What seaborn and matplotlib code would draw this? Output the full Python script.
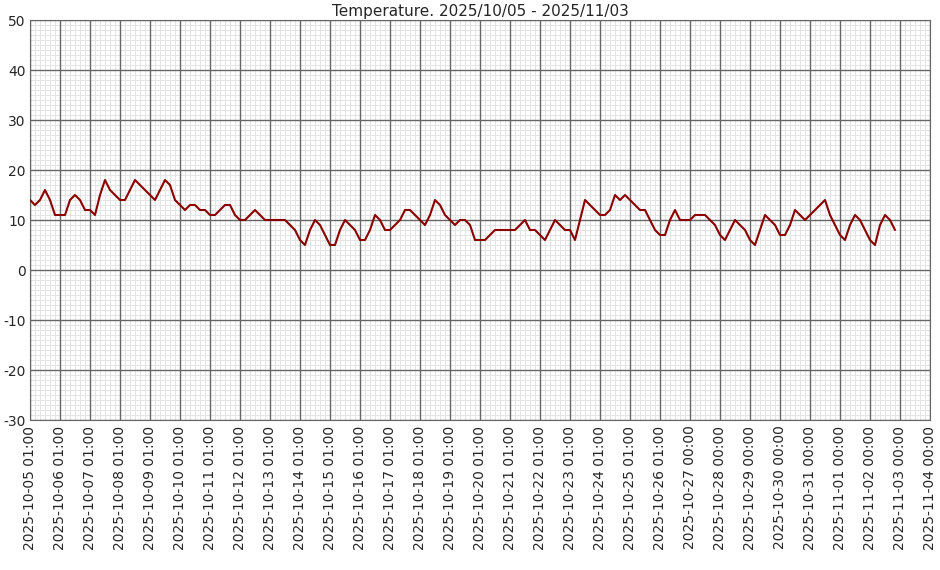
import matplotlib
matplotlib.use("Agg")
import matplotlib.pyplot as plt
import seaborn as sns
from matplotlib.ticker import MultipleLocator

# temperatura co 4 godziny od 2025-10-05 01:00
temp = [14, 13, 14, 16, 14, 11, 11, 11, 14, 15, 14, 12, 12, 11, 15, 18, 16, 15, 14, 14,
        16, 18, 17, 16, 15, 14, 16, 18, 17, 14, 13, 12, 13, 13, 12, 12, 11, 11, 12, 13,
        13, 11, 10, 10, 11, 12, 11, 10, 10, 10, 10, 10, 9, 8, 6, 5, 8, 10, 9, 7,
        5, 5, 8, 10, 9, 8, 6, 6, 8, 11, 10, 8, 8, 9, 10, 12, 12, 11, 10, 9,
        11, 14, 13, 11, 10, 9, 10, 10, 9, 6, 6, 6, 7, 8, 8, 8, 8, 8, 9, 10,
        8, 8, 7, 6, 8, 10, 9, 8, 8, 6, 10, 14, 13, 12, 11, 11, 12, 15, 14, 15,
        14, 13, 12, 12, 10, 8, 7, 7, 10, 12, 10, 10, 10, 11, 11, 11, 10, 9, 7, 6,
        8, 10, 9, 8, 6, 5, 8, 11, 10, 9, 7, 7, 9, 12, 11, 10, 11, 12, 13, 14,
        11, 9, 7, 6, 9, 11, 10, 8, 6, 5, 9, 11, 10, 8]
godziny = [4 * i for i in range(len(temp))]

etykiety = [f"2025-10-{d:02d} 01:00" for d in range(5, 27)] + \
           [f"2025-10-{d:02d} 00:00" for d in range(27, 32)] + \
           [f"2025-11-{d:02d} 00:00" for d in range(1, 5)]

sns.set_style("white")
plt.rcParams["axes.unicode_minus"] = False
fig, ax = plt.subplots(figsize=(9.4, 5.7), dpi=100)
fig.subplots_adjust(left=30/940, right=930/940, top=1-20/570, bottom=1-420/570)

sns.lineplot(x=godziny, y=temp, ax=ax, color="#8b0000", linewidth=1.5, zorder=3)

ax.set_xlim(0, 24 * 30)
ax.set_ylim(-30, 50)
xt = [24 * i for i in range(len(etykiety))]
ax.set_xticks(xt)
ax.set_xticklabels(etykiety, rotation=90, fontsize=10)
ax.xaxis.set_minor_locator(MultipleLocator(4))
ax.yaxis.set_major_locator(MultipleLocator(10))
ax.yaxis.set_minor_locator(MultipleLocator(1))
ax.tick_params(axis="y", labelsize=10, length=0, pad=3)
ax.tick_params(axis="x", length=0, pad=4)
ax.tick_params(which="minor", length=0)
ax.grid(which="minor", color="#e4e4e4", linewidth=0.7)
ax.set_axisbelow(True)
for x in xt:
    ax.axvline(x, color="#666666", linewidth=1, zorder=1)
for y in range(-30, 51, 10):
    ax.axhline(y, color="#666666", linewidth=1, zorder=1)
for s in ax.spines.values():
    s.set_color("#666666")
ax.set_title("Temperature. 2025/10/05 - 2025/11/03", fontsize=11, pad=3)

fig.savefig("out.png", dpi=100)
